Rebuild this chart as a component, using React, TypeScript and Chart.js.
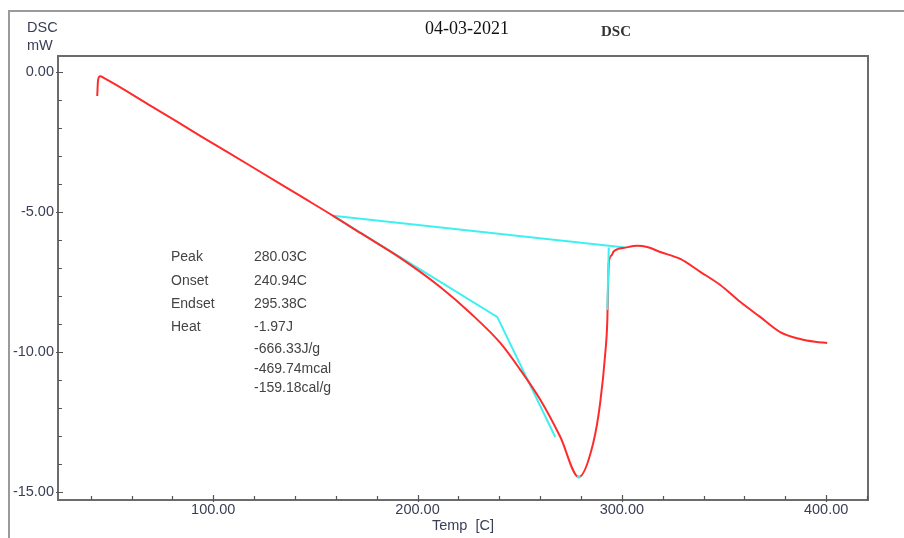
import { useEffect, useRef } from "react";
import { Chart, registerables } from "chart.js";
Chart.register(...registerables);

// ---- data ----
const redT = [43.2, 43.6, 44.6, 46.6, 69.2, 93.6, 118.1, 142.6, 158.7, 172.0, 191.5, 211.1, 225.8, 240.5, 250.3, 260.1, 269.9, 278.9, 286.0, 289.4, 291.9, 292.9, 293.3, 293.6, 295.1, 295.9, 298.2, 300.7, 307.5, 312.4, 318.8, 328.6, 338.4, 348.2, 357.9, 367.7, 377.5, 387.3, 394.6, 400.5];
const redMW = [-0.86, -0.30, -0.15, -0.22, -1.20, -2.28, -3.35, -4.43, -5.14, -5.75, -6.64, -7.68, -8.61, -9.68, -10.64, -11.71, -13.04, -14.47, -13.25, -11.82, -10.04, -8.86, -7.5, -6.82, -6.54, -6.42, -6.32, -6.29, -6.21, -6.25, -6.43, -6.68, -7.14, -7.61, -8.21, -8.75, -9.29, -9.54, -9.64, -9.68];

const baselineT = [158.7, 301.5];
const baselineMW = [-5.14, -6.27];
const onsetT = [158.7, 239.0, 267.4];
const onsetMW = [-5.14, -8.75, -13.04];
const endsetT = [293.6, 292.9];
const endsetMW = [-6.27, -8.5];
const peakT = [278.9];
const peakMW = [-14.47];

const xMin = 24;
const xMax = 420.5;
const yMin = -15.29;
const yMax = 0.57;
const xStep = 20;
const xLabelEvery = 100;
const yStep = 1;
const yLabelEvery = 5;

const annotationNames = ["Peak", "Onset", "Endset", "Heat"];
const annotationValues = ["280.03C", "240.94C", "295.38C", "-1.97J", "-666.33J/g", "-469.74mcal", "-159.18cal/g"];

const FONT = "'Liberation Sans', Arial, sans-serif";
const TEXT = "#3a3e55";

const pts = (xs: number[], ys: number[]) => xs.map((x, i) => ({ x, y: ys[i] }));

const decorPlugin = {
  id: "decor",
  beforeDraw(chart: any) {
    const ctx = chart.ctx;
    ctx.save();
    ctx.fillStyle = "#ffffff";
    ctx.fillRect(0, 0, chart.width, chart.height);
    ctx.strokeStyle = "#9a9a9a";
    ctx.lineWidth = 2;
    ctx.beginPath();
    ctx.moveTo(9, chart.height);
    ctx.lineTo(9, 11);
    ctx.lineTo(chart.width, 11);
    ctx.stroke();
    ctx.restore();
  },
  afterDraw(chart: any) {
    const ctx = chart.ctx;
    const a = chart.chartArea;
    const xs = chart.scales.x;
    const ys = chart.scales.y;
    ctx.save();
    // plot box
    ctx.strokeStyle = "#6c6c6c";
    ctx.lineWidth = 2;
    ctx.strokeRect(a.left, a.top, a.right - a.left, a.bottom - a.top);
    // inward ticks
    ctx.lineWidth = 1.2;
    ctx.strokeStyle = "#555555";
    ctx.beginPath();
    xs.ticks.forEach((t: any) => {
      const px = Math.round(xs.getPixelForValue(t.value)) + 0.5;
      const major = t.value % xLabelEvery === 0;
      ctx.moveTo(px, a.bottom + (major ? 2 : 0));
      ctx.lineTo(px, a.bottom - (major ? 5 : 4));
    });
    ys.ticks.forEach((t: any) => {
      const py = Math.round(ys.getPixelForValue(t.value)) + 0.5;
      const major = t.value % yLabelEvery === 0;
      ctx.moveTo(a.left - (major ? 2 : 0), py);
      ctx.lineTo(a.left + (major ? 5 : 4), py);
    });
    ctx.stroke();

    // header texts
    ctx.fillStyle = TEXT;
    ctx.textBaseline = "middle";
    ctx.textAlign = "left";
    ctx.font = `14.5px ${FONT}`;
    ctx.fillText("DSC", 27, 28);
    ctx.fillText("mW", 27, 46);
    ctx.fillStyle = "#111111";
    ctx.textAlign = "center";
    ctx.font = `18px 'Liberation Serif', 'Times New Roman', serif`;
    ctx.fillText("04-03-2021", 467, 29);
    ctx.fillStyle = "#333333";
    ctx.font = `bold 15px 'Liberation Serif', 'Times New Roman', serif`;
    ctx.fillText("DSC", 616, 32);

    // annotation block
    ctx.fillStyle = "#444444";
    ctx.textAlign = "left";
    ctx.font = `14px ${FONT}`;
    const rows = [257, 281, 304, 327, 349, 369, 388];
    annotationNames.forEach((n, i) => ctx.fillText(n, 171, rows[i]));
    annotationValues.forEach((v, i) => ctx.fillText(v, 254, rows[i]));
    ctx.restore();
  },
};

export default function App() {
  const ref = useRef<HTMLCanvasElement | null>(null);
  useEffect(() => {
    if (!ref.current) return;
    const cyan = "#3ff0f0";
    const chart = new Chart(ref.current, {
      type: "line",
      data: {
        datasets: [
          {
            data: pts(redT, redMW),
            borderColor: "#ff2b2b",
            borderWidth: 2,
            pointRadius: 0,
            cubicInterpolationMode: "monotone",
            order: 1,
          },
          { data: pts(baselineT, baselineMW), borderColor: cyan, borderWidth: 2, pointRadius: 0, order: 2 },
          { data: pts(onsetT, onsetMW), borderColor: cyan, borderWidth: 2, pointRadius: 0, order: 2 },
          { data: pts(endsetT, endsetMW), borderColor: cyan, borderWidth: 2, pointRadius: 0, order: 0 },
          {
            data: pts(peakT, peakMW),
            borderColor: cyan,
            backgroundColor: cyan,
            showLine: false,
            pointRadius: 1.8,
            pointBorderWidth: 0,
            order: -1,
          },
        ],
      },
      options: {
        animation: false,
        responsive: false,
        parsing: true,
        layout: { padding: { left: 0, top: 56, right: 36, bottom: 0 } },
        plugins: { legend: { display: false }, tooltip: { enabled: false }, title: { display: false } },
        scales: {
          x: {
            type: "linear",
            position: "bottom",
            min: xMin,
            max: xMax,
            grid: { display: false, drawTicks: false },
            border: { display: false },
            ticks: {
              stepSize: xStep,
              autoSkip: false,
              maxRotation: 0,
              includeBounds: false,
              padding: 1,
              color: TEXT,
              font: { family: FONT, size: 14.5 },
              callback: (v: any) => (Number(v) % xLabelEvery === 0 ? Number(v).toFixed(2) : ""),
            },
            title: {
              display: true,
              text: "Temp  [C]",
              color: TEXT,
              font: { family: FONT, size: 14.5 },
              padding: { top: 0, bottom: 3 },
            },
            afterFit: (s: any) => {
              s.height = 38;
            },
          },
          y: {
            type: "linear",
            min: yMin,
            max: yMax,
            grid: { display: false, drawTicks: false },
            border: { display: false },
            ticks: {
              stepSize: yStep,
              autoSkip: false,
              includeBounds: false,
              padding: 4,
              color: TEXT,
              font: { family: FONT, size: 14.5 },
              callback: (v: any) => {
                const n = Math.round(Number(v));
                return n % yLabelEvery === 0 ? (n === 0 ? 0 : n).toFixed(2) : "";
              },
            },
            afterFit: (s: any) => {
              s.width = 58;
            },
          },
        },
      },
      plugins: [decorPlugin],
    } as any);
    return () => chart.destroy();
  }, []);
  return (
    <div style={{ position: "absolute", left: 0, top: 0, width: 904, height: 538, overflow: "hidden" }}>
      <canvas ref={ref} width={904} height={538} style={{ display: "block" }} />
    </div>
  );
}
